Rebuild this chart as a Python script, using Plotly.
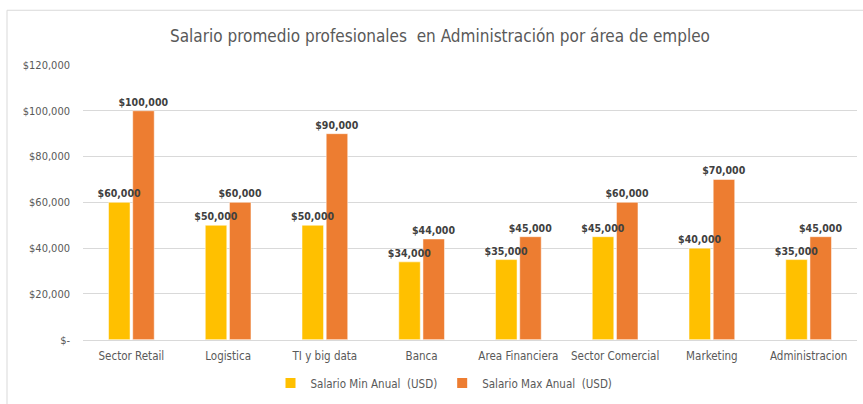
import plotly.graph_objects as go

categories = ["Sector Retail", "Logistica", "TI y big data", "Banca", "Area Financiera",
              "Sector Comercial", "Marketing", "Administracion"]
salario_min = [60000, 50000, 50000, 34000, 35000, 45000, 40000, 35000]
salario_max = [100000, 60000, 90000, 44000, 45000, 60000, 70000, 45000]
series_names = ["Salario Min Anual  (USD)", "Salario Max Anual  (USD)"]
tick_vals = [0, 20000, 40000, 60000, 80000, 100000, 120000]
tick_text = ["$-", "$20,000", "$40,000", "$60,000", "$80,000", "$100,000", "$120,000"]

FONT = "DejaVu Sans Condensed, DejaVu Sans, sans-serif"
LABEL_FONT = dict(family=FONT, size=10.5, color="#404040", weight="bold")

def fmt(v):
    return "${:,.0f}".format(v)

fig = go.Figure()
# visible bars
fig.add_trace(go.Bar(
    x=categories, y=salario_min, name=series_names[0], offsetgroup="min",
    marker=dict(color="#FFC000", line=dict(color="#FFFFFF", width=0.5)),
))
fig.add_trace(go.Bar(
    x=categories, y=salario_max, name=series_names[1], offsetgroup="max",
    marker=dict(color="#ED7D31", line=dict(color="#FFFFFF", width=0.5)),
))
# label-only overlays, drawn last so the labels sit on top of neighbouring bars
for vals, grp in [(salario_min, "min"), (salario_max, "max")]:
    fig.add_trace(go.Bar(
        x=categories, y=vals, offsetgroup=grp, showlegend=False, hoverinfo="skip",
        marker=dict(color="rgba(0,0,0,0)", line=dict(width=0)),
        text=[fmt(v) for v in vals], textposition="outside", cliponaxis=False,
        constraintext="none", textfont=LABEL_FONT,
    ))

W, H = 863, 404
L, R, T, B = 83, 6, 65, 63
pw, ph = W - L - R, H - T - B

def px_x(p):
    return (p - L) / pw

def px_y(p):
    return (H - B - p) / ph

fig.update_layout(
    width=W, height=H,
    margin=dict(l=L, r=R, t=T, b=B),
    paper_bgcolor="white", plot_bgcolor="white",
    barmode="group", bargap=0.5, bargroupgap=0.11,
    title=dict(text="Salario promedio profesionales  en Administración por área de empleo",
               x=440 / W, xanchor="center", y=1 - 36 / H, yanchor="middle",
               font=dict(family=FONT, size=17, color="#595959")),
    font=dict(family=FONT, size=11, color="#595959"),
    xaxis=dict(showgrid=False, showline=True, linecolor="#D9D9D9", linewidth=1,
               ticks="", tickangle=0, ticklabelstandoff=5,
               tickfont=dict(family=FONT, size=11.5, color="#595959")),
    yaxis=dict(range=[0, 120000], tickvals=tick_vals, ticktext=tick_text,
               showgrid=True, gridcolor="#D9D9D9", gridwidth=1, zeroline=False,
               showline=False, ticks="", ticklen=0, ticklabelstandoff=12,
               tickfont=dict(family=FONT, size=11, color="#595959")),
    legend=dict(orientation="h", x=444 / W, xanchor="center", xref="container",
                y=1 - 383 / H, yref="container", yanchor="middle",
                font=dict(family=FONT, size=11.5, color="#595959"),
                itemsizing="constant", traceorder="normal", itemwidth=30),
    showlegend=True,
    shapes=[dict(type="rect", xref="paper", yref="paper",
                 x0=px_x(7), x1=px_x(875), y0=px_y(420), y1=px_y(10),
                 line=dict(color="#D9D9D9", width=1), fillcolor="rgba(0,0,0,0)",
                 layer="below")],
)

fig.write_html("out.html", config={"displayModeBar": False},
               post_script="document.body.style.margin='0';document.body.style.overflow='hidden';")
